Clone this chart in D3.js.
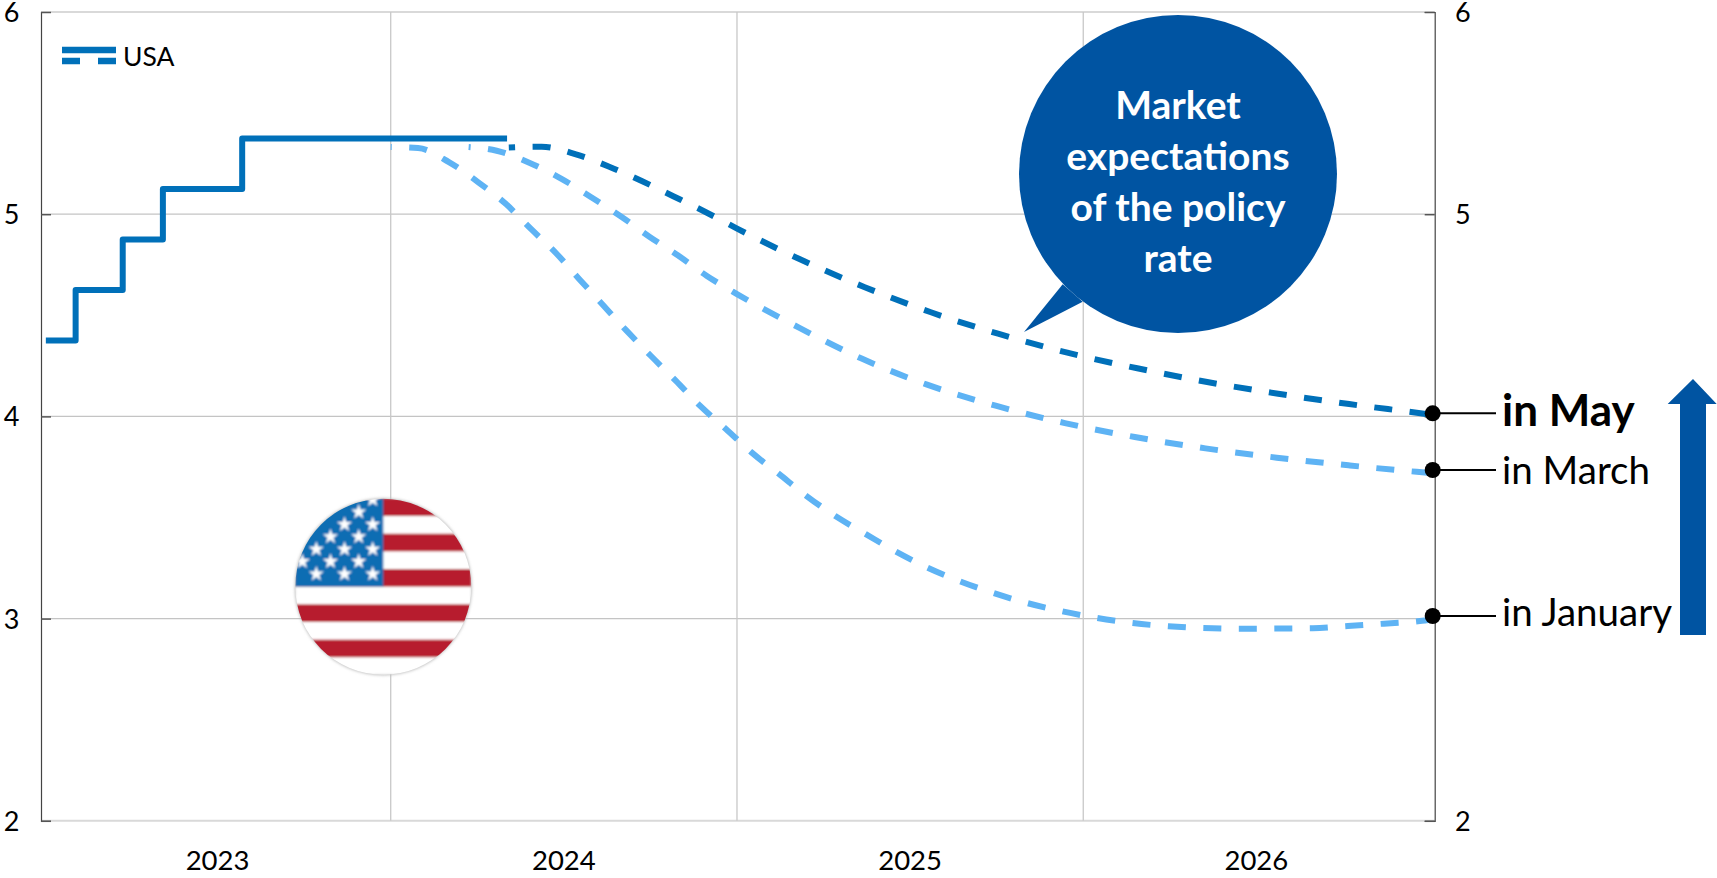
<!DOCTYPE html>
<html>
<head>
<meta charset="utf-8">
<script src="https://cdn.jsdelivr.net/npm/d3@7"></script>
<style>
    html, body { margin: 0; padding: 0; background: #fff; }
    svg { display: block; }
    text { font-family: Lato, "Open Sans", sans-serif; fill: #000; }
</style>
</head>
<body>
<div id="chart"></div>
<script>
// values, x is a fractional year
const years = [2023, 2024, 2025, 2026];
const yTicks = [2, 3, 4, 5, 6];
const yTicksRight = [2, 5, 6];   // 3 and 4 are taken by the end labels

// policy rate, actual (step after)
const usaX = [2023.004, 2023.09, 2023.226, 2023.342, 2023.571, 2024.336];
const usaY = [4.375, 4.625, 4.875, 5.125, 5.375, 5.375];

// market expectations
const mayX = [2024.341, 2024.436, 2024.535, 2024.631, 2024.725, 2024.816, 2024.909, 2024.999, 2025.182, 2025.369, 2025.56, 2025.754, 2025.954, 2026.156, 2026.358, 2026.563, 2026.768, 2026.963, 2027.007];
const mayY = [5.33, 5.334, 5.296, 5.235, 5.164, 5.089, 5.011, 4.93, 4.777, 4.639, 4.515, 4.409, 4.315, 4.238, 4.17, 4.112, 4.061, 4.018, 4.008];
const marchX = [2024.225, 2024.306, 2024.4, 2024.492, 2024.579, 2024.664, 2024.746, 2024.829, 2024.912, 2025.0, 2025.179, 2025.36, 2025.549, 2025.747, 2025.947, 2026.149, 2026.353, 2026.559, 2026.766, 2026.963, 2027.007];
const marchY = [5.332, 5.314, 5.255, 5.176, 5.084, 4.99, 4.89, 4.797, 4.696, 4.605, 4.439, 4.286, 4.157, 4.053, 3.967, 3.898, 3.842, 3.796, 3.758, 3.726, 3.72];
const januaryX = [2024.0, 2024.079, 2024.168, 2024.252, 2024.333, 2024.405, 2024.477, 2024.544, 2024.613, 2024.681, 2024.751, 2024.823, 2024.893, 2024.968, 2025.042, 2025.122, 2025.201, 2025.284, 2025.372, 2025.459, 2025.548, 2025.642, 2025.74, 2025.838, 2025.939, 2026.04, 2026.143, 2026.246, 2026.452, 2026.663, 2026.764, 2026.868, 2026.972, 2027.007];
const januaryY = [5.332, 5.327, 5.258, 5.159, 5.05, 4.927, 4.808, 4.68, 4.551, 4.424, 4.3, 4.177, 4.053, 3.938, 3.822, 3.714, 3.606, 3.507, 3.418, 3.331, 3.254, 3.186, 3.127, 3.077, 3.036, 3.003, 2.978, 2.962, 2.95, 2.952, 2.963, 2.975, 2.988, 2.996];

const width = 1717, height = 878;
const plotLeft = 41, plotRight = 1434.7, plotTop = 12, plotBottom = 820.8;

const darkBlue = '#0070b9', lightBlue = '#5eb3f4', navy = '#0054a2';

let svg = d3.select('#chart').append('svg')
    .attr('width', width)
    .attr('height', height);

let x = d3.scaleLinear().domain([2022.99, 2027.015]).range([plotLeft, plotRight]);
let y = d3.scaleLinear().domain([2, 6]).range([plotBottom, plotTop]);

// gridlines
svg.append('g').selectAll('line')
    .data(yTicks)
    .join('line')
    .attr('x1', plotLeft).attr('x2', plotRight)
    .attr('y1', d => y(d)).attr('y2', d => y(d))
    .attr('stroke', d => (d == 2 || d == 6) ? '#d9d9d9' : '#c4c4c4')
    .attr('stroke-width', d => (d == 2 || d == 6) ? 2 : 1.3);

svg.append('g').selectAll('line')
    .data(years.slice(1))
    .join('line')
    .attr('x1', d => x(d)).attr('x2', d => x(d))
    .attr('y1', plotTop).attr('y2', plotBottom)
    .attr('stroke', '#c8c8c8')
    .attr('stroke-width', 1.3);

// flag sits on the grid, under the lines
drawFlag(383.3, 586.7, 88);

// axes: the d3 axis gives the tick marks, labels come after
let axisLeft = svg.append('g')
    .attr('transform', `translate(${plotLeft},0)`)
    .call(d3.axisRight(y).tickValues(yTicks).tickSize(10).tickFormat(''));
let axisRight = svg.append('g')
    .attr('transform', `translate(${plotRight},0)`)
    .call(d3.axisLeft(y).tickValues(yTicks).tickSize(10).tickFormat(''));
[axisLeft, axisRight].forEach(a => {
    a.select('.domain').attr('stroke', '#444').attr('stroke-width', 1.2);
    a.selectAll('.tick line').attr('stroke', '#555').attr('stroke-width', 1.5);
});

svg.append('g').selectAll('text')
    .data(yTicks)
    .join('text')
    .attr('x', 19.5).attr('y', d => y(d) + 10)
    .attr('text-anchor', 'end')
    .attr('font-size', 27)
    .text(d => d);

svg.append('g').selectAll('text')
    .data(yTicksRight)
    .join('text')
    .attr('x', 1455).attr('y', d => y(d) + 10)
    .attr('font-size', 27)
    .text(d => d);

svg.append('g').selectAll('text')
    .data(years)
    .join('text')
    .attr('x', d => x(d + 0.5))
    .attr('y', 870)
    .attr('text-anchor', 'middle')
    .attr('font-size', 27.5)
    .text(d => d);

// lines
let line = d3.line().x(d => x(d[0])).y(d => y(d[1])).curve(d3.curveMonotoneX);
let stepLine = d3.line().x(d => x(d[0])).y(d => y(d[1])).curve(d3.curveStepAfter);

function drawDashed(xs, ys, color, offset) {
    svg.append('path')
        .datum(d3.zip(xs, ys))
        .attr('d', line)
        .attr('fill', 'none')
        .attr('stroke', color)
        .attr('stroke-width', 6)
        .attr('stroke-dasharray', '18 17.5')
        .attr('stroke-dashoffset', offset);
}

drawDashed(januaryX, januaryY, lightBlue, 17);
drawDashed(marchX, marchY, lightBlue, 16);
drawDashed(mayX, mayY, darkBlue, 11.7);

svg.append('path')
    .datum(d3.zip(usaX, usaY))
    .attr('d', stepLine)
    .attr('fill', 'none')
    .attr('stroke', darkBlue)
    .attr('stroke-width', 6)
    .attr('stroke-linejoin', 'round');

// legend
svg.append('line').attr('x1', 62).attr('x2', 116).attr('y1', 50).attr('y2', 50)
    .attr('stroke', darkBlue).attr('stroke-width', 6.5);
svg.append('line').attr('x1', 62).attr('x2', 116).attr('y1', 61).attr('y2', 61)
    .attr('stroke', darkBlue).attr('stroke-width', 6.5).attr('stroke-dasharray', '18 18');
svg.append('text').attr('x', 123).attr('y', 66).attr('font-size', 26.5).text('USA');

// bubble
svg.append('circle').attr('cx', 1178).attr('cy', 174).attr('r', 159).attr('fill', navy);
svg.append('path').attr('d', 'M1062.7,284.3L1024,332L1082.7,301.7Z').attr('fill', navy);
const bubbleLines = ['Market', 'expectations', 'of the policy', 'rate'];
const bubbleBase = [119, 170, 221, 272];
svg.append('g').selectAll('text')
    .data(bubbleLines)
    .join('text')
    .attr('x', 1178)
    .attr('y', (d, i) => bubbleBase[i])
    .attr('text-anchor', 'middle')
    .attr('font-size', 39)
    .attr('font-weight', 700)
    .style('fill', '#fff')
    .text(d => d);

// end labels with leader lines
const endLabels = ['in May', 'in March', 'in January'];
const endY = [413.3, 470, 616];
const endBase = [425.7, 484, 626];
endLabels.forEach((t, i) => {
    svg.append('line')
        .attr('x1', 1432.7).attr('x2', 1496)
        .attr('y1', endY[i]).attr('y2', endY[i])
        .attr('stroke', '#000').attr('stroke-width', 2);
    svg.append('circle')
        .attr('cx', 1432.7).attr('cy', endY[i]).attr('r', 8)
        .attr('fill', '#000');
    svg.append('text')
        .attr('x', 1502).attr('y', endBase[i])
        .attr('font-size', i == 0 ? 44 : 38.5)
        .attr('font-weight', i == 0 ? 700 : 400)
        .text(t);
});

// arrow on the right
svg.append('path')
    .attr('d', 'M1680,635V404H1667.7L1693,379L1716.7,404H1706V635Z')
    .attr('fill', navy);

function drawFlag(cx, cy, r) {
    const defs = svg.append('defs');
    defs.append('clipPath').attr('id', 'flag-clip')
        .append('circle').attr('cx', cx).attr('cy', cy).attr('r', r);
    const soft = defs.append('filter').attr('id', 'flag-soft');
    soft.append('feGaussianBlur').attr('stdDeviation', 0.8);
    const shadow = defs.append('filter').attr('id', 'flag-shadow')
        .attr('x', '-10%').attr('y', '-10%').attr('width', '120%').attr('height', '120%');
    shadow.append('feGaussianBlur').attr('stdDeviation', 1.8);

    svg.append('circle').attr('cx', cx).attr('cy', cy).attr('r', r + 0.5)
        .attr('fill', '#bbb').attr('filter', 'url(#flag-shadow)');

    const g = svg.append('g').attr('clip-path', 'url(#flag-clip)')
        .append('g').attr('filter', 'url(#flag-soft)');
    g.append('rect').attr('x', cx - r).attr('y', cy - r).attr('width', 2 * r).attr('height', 2 * r).attr('fill', '#fff');

    const stripeH = 17.65;
    const stripeTop = cy - r - 0.3;
    d3.range(0, 10, 2).forEach(i => {
        g.append('rect')
            .attr('x', cx - r).attr('width', 2 * r)
            .attr('y', stripeTop + i * stripeH).attr('height', stripeH)
            .attr('fill', '#b71f2d');
    });
    g.append('rect')
        .attr('x', cx - r).attr('y', cy - r)
        .attr('width', r).attr('height', r)
        .attr('fill', '#0c6db3');

    // stars in staggered rows, counted back from the lower right of the canton
    const star = d3.symbol().type(d3.symbolStar).size(72);
    const rowCounts = [3, 3, 3, 2, 2, 1, 1];
    rowCounts.forEach((n, row) => {
        d3.range(0, n).forEach(col => {
            const sx = cx - 10.6 - col * 28.2 - (row % 2 ? 14 : 0);
            const sy = cy - 12.7 - row * 12.4;
            g.append('path')
                .attr('d', star)
                .attr('transform', `translate(${sx},${sy})`)
                .attr('fill', '#fff');
        });
    });
}
</script>
</body>
</html>
